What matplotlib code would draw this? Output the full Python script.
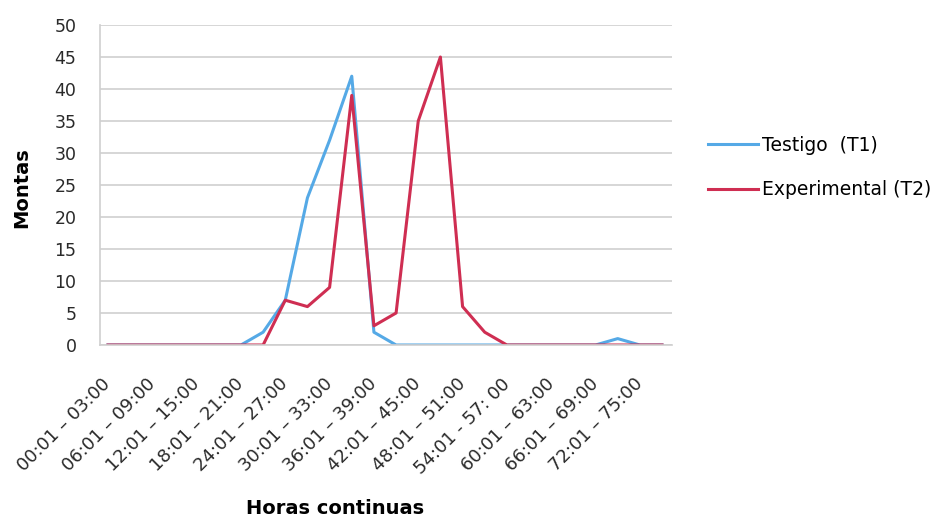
import matplotlib
matplotlib.use("Agg")
import matplotlib.pyplot as plt

categories = [f"{h:02d}:01 – {h+3:02d}:00" for h in range(0, 78, 3)]
categories[18] = "54:01 - 57: 00"
testigo = [0, 0, 0, 0, 0, 0, 0, 2, 7, 23, 32, 42, 2, 0, 0, 0, 0, 0, 0, 0, 0, 0, 0, 1, 0, 0]
experimental = [0, 0, 0, 0, 0, 0, 0, 0, 7, 6, 9, 39, 3, 5, 35, 45, 6, 2, 0, 0, 0, 0, 0, 0, 0, 0]
yticks = [0, 5, 10, 15, 20, 25, 30, 35, 40, 45, 50]

fig = plt.figure(figsize=(9.36, 5.2), dpi=100)
ax = fig.add_axes([100 / 936, 1 - 345 / 520, 572 / 936, 320 / 520])

x = list(range(len(categories)))
ax.plot(x, testigo, color="#55A9E6", lw=2.2, label="Testigo  (T1)")
ax.plot(x, experimental, color="#CF2E52", lw=2.2, label="Experimental (T2)")

ax.set_ylim(0, 50)
ax.set_xlim(-0.36, len(categories) - 0.55)
ax.set_yticks(yticks)
ax.set_yticklabels([str(v) for v in yticks], fontsize=12.5, family="DejaVu Sans", color="#2a2a2a")
ax.set_xticks(x[::2])
ax.set_xticklabels(categories[::2], rotation=45, ha="right", va="center", rotation_mode="anchor",
                   fontsize=13, family="DejaVu Sans", color="#2a2a2a")
ax.tick_params(axis="both", length=0)
ax.tick_params(axis="y", pad=17)
ax.tick_params(axis="x", pad=26)
ax.grid(axis="y", color="#CFCFCF", lw=1.2)
ax.set_axisbelow(True)
for s in ["top", "right"]:
    ax.spines[s].set_visible(False)
for s in ["left", "bottom"]:
    ax.spines[s].set_color("#CFCFCF")
    ax.spines[s].set_linewidth(1.2)

fig.text(22 / 936, 1 - 188 / 520, "Montas", rotation=90, fontsize=14, fontweight="bold",
         family="DejaVu Sans", va="center", ha="center")
fig.text(335 / 936, 1 - 508 / 520, "Horas continuas", fontsize=14, fontweight="bold",
         family="DejaVu Sans", ha="center", va="center")

leg = ax.legend(loc="center left", bbox_to_anchor=(708 / 936, 1 - 167.5 / 520),
                bbox_transform=fig.transFigure, frameon=False, borderpad=0, borderaxespad=0,
                prop={"family": "DejaVu Sans", "size": 13.5}, handlelength=2.67,
                handletextpad=0.2, labelspacing=1.35)

fig.savefig("out.png", dpi=100)
